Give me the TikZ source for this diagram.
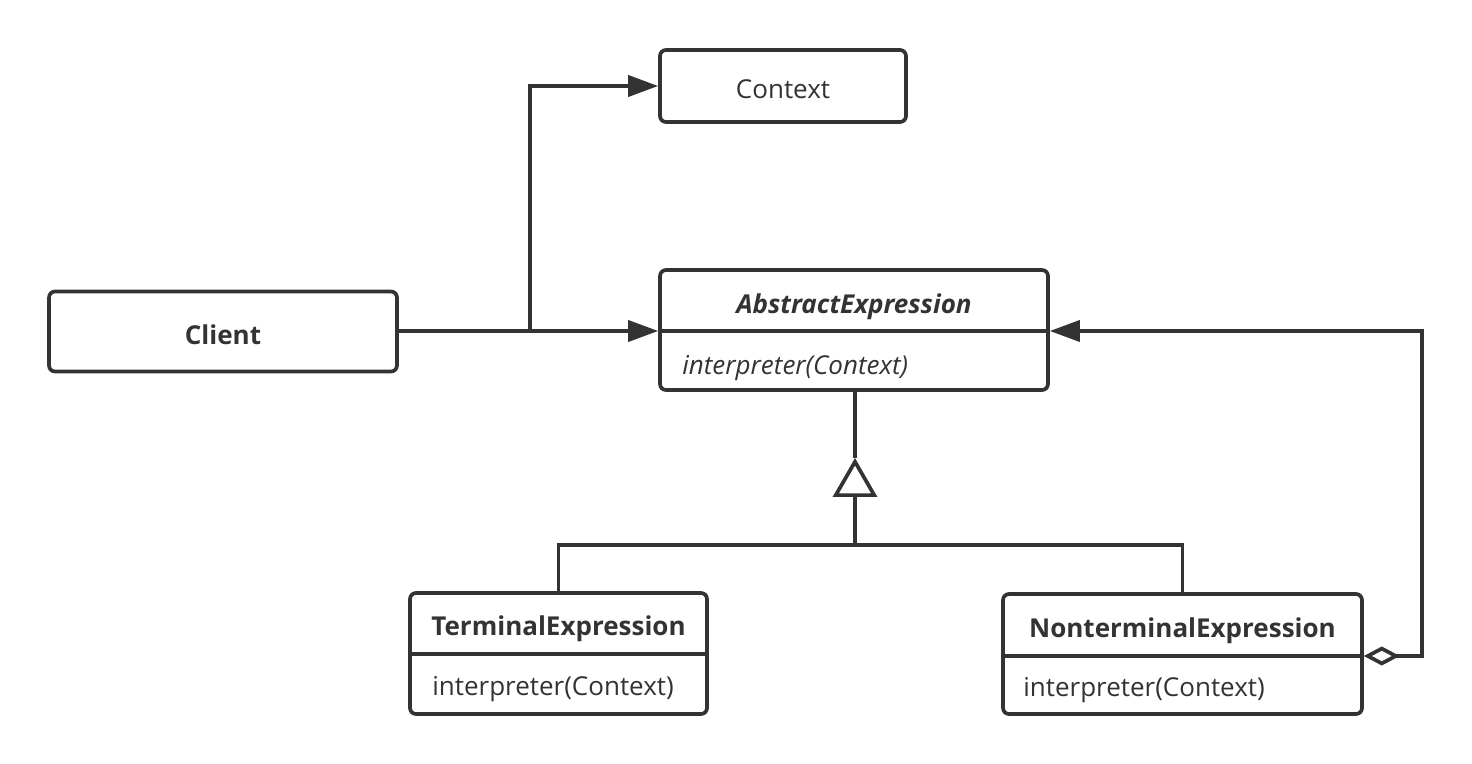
\documentclass[tikz,border=0pt]{standalone}
\usepackage{fontspec}
\setmainfont{Open Sans}
\usetikzlibrary{arrows.meta}
\definecolor{ink}{HTML}{333333}
\tikzset{
  box/.style={draw=ink, line width=2.1pt, rounded corners=3.4pt, fill=white, inner sep=0pt},
  lbl/.style={text=ink, font=\fontsize{14.8}{17}\selectfont, inner sep=0pt},
  bl/.style={lbl, font=\fontsize{14.8}{17}\selectfont\bfseries},
  conn/.style={draw=ink, line width=2.1pt},
  solidtip/.style={-{Triangle[length=0.6cm,width=0.42cm]}},
}
\begin{document}
\begin{tikzpicture}[x=0.02cm, y=-0.02cm]
\useasboundingbox (0,0) rectangle (1472,764);
% boxes
\node[box, minimum width=4.92cm, minimum height=1.44cm] (ctx) at (783,86) {};
\node[lbl] (ctxt) at (783,89) {Context};
\node[box, minimum width=6.96cm, minimum height=1.6cm] (cl) at (223,331.5) {};
\node[bl] (clt) at (223,335) {Client};
\node[box, minimum width=7.76cm, minimum height=2.4cm] (abs) at (854,330) {};
\draw[conn] (abs.west |- 0,331) coordinate (absl) -- (abs.east |- 0,331) coordinate (absr);
\node[bl, font=\fontsize{14.8}{17}\selectfont\bfseries\itshape] (abst) at (854,307) {AbstractExpression};
\node[lbl, font=\fontsize{14.8}{17}\selectfont\itshape, anchor=west] (absm) at (682,368) {interpreter(Context)};
\node[box, minimum width=5.94cm, minimum height=2.42cm] (te) at (558.5,653.5) {};
\draw[conn] (te.west |- 0,654) -- (te.east |- 0,654);
\node[bl] (tet) at (558.5,629) {TerminalExpression};
\node[lbl, anchor=west] (tem) at (432,689) {interpreter(Context)};
\node[box, minimum width=7.18cm, minimum height=2.4cm] (nt) at (1182.5,654) {};
\draw[conn] (nt.west |- 0,656) -- (nt.east |- 0,656);
\node[bl] (ntt) at (1182.5,631) {NonterminalExpression};
\node[lbl, anchor=west] (ntm) at (1023,690) {interpreter(Context)};
% client connections
\coordinate (br) at (530,331);
\draw[conn, solidtip] (cl.east |- br) -- (absl);
\draw[conn, solidtip] (br) |- (ctx.west);
% inheritance
\coordinate (tip) at (855,458);
\coordinate (bar) at (855,545);
\draw[conn] (abs.south -| tip) -- (tip);
\draw[conn, -{Triangle[open,length=0.78cm,width=0.88cm]}] (bar) -- (tip);
\draw[conn] (te.north) |- (bar) -| (nt.north);
% aggregation
\coordinate (rc) at (1422,656);
\draw[conn, {Diamond[open,length=0.72cm,width=0.38cm]}-{Triangle[length=0.6cm,width=0.42cm]}] (nt.east |- rc) -- (rc) |- (absr);
\end{tikzpicture}
\end{document}
